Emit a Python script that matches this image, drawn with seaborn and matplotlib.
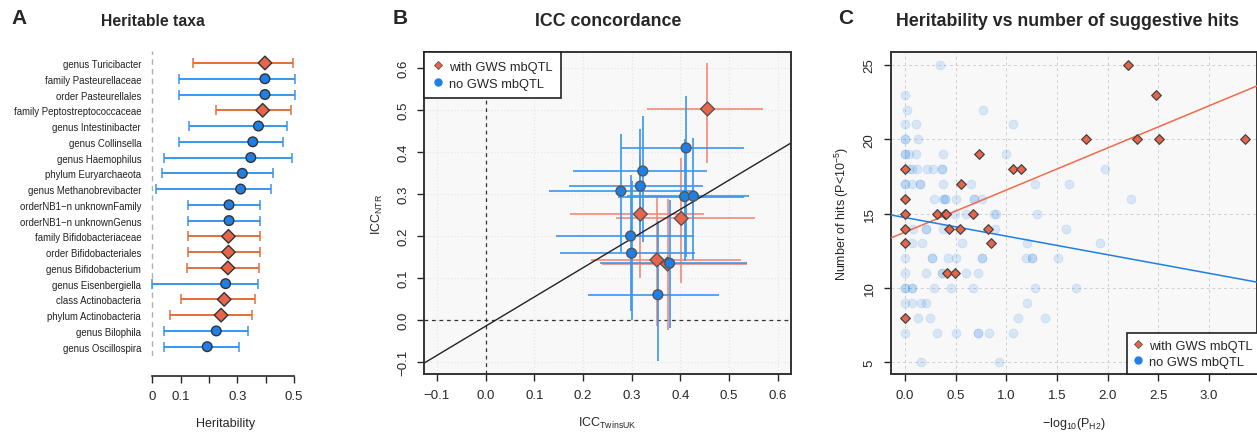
import numpy as np
import pandas as pd
import matplotlib.pyplot as plt
from matplotlib.lines import Line2D
import seaborn as sns

sns.set_style('ticks')
plt.rcParams['font.family'] = ['Liberation Sans', 'DejaVu Sans']
plt.rcParams['mathtext.fontset'] = 'custom'
plt.rcParams['mathtext.rm'] = 'Liberation Sans'
plt.rcParams['mathtext.it'] = 'Liberation Sans'
plt.rcParams['axes.unicode_minus'] = True

RED = '#e8654a'
RED_BAR = '#e2703a'
BLUE = '#1f7fe6'
BLUE_BAR = '#3a95f0'

# ---- panel A: heritable taxa ----
taxa = ['genus Turicibacter', 'family Pasteurellaceae', 'order Pasteurellales',
        'family Peptostreptococcaceae', 'genus Intestinibacter', 'genus Collinsella',
        'genus Haemophilus', 'phylum Euryarchaeota', 'genus Methanobrevibacter',
        'orderNB1\u2212n unknownFamily', 'orderNB1\u2212n unknownGenus',
        'family Bifidobacteriaceae', 'order Bifidobacteriales', 'genus Bifidobacterium',
        'genus Eisenbergiella', 'class Actinobacteria', 'phylum Actinobacteria',
        'genus Bilophila', 'genus Oscillospira']
h2 = [0.398, 0.398, 0.398, 0.390, 0.375, 0.355, 0.348, 0.318, 0.312, 0.271,
      0.271, 0.269, 0.269, 0.267, 0.259, 0.254, 0.243, 0.226, 0.194]
h2_lo = [0.143, 0.096, 0.096, 0.224, 0.129, 0.096, 0.042, 0.034, 0.013, 0.125,
         0.125, 0.125, 0.125, 0.123, 0.0, 0.100, 0.063, 0.042, 0.042]
h2_hi = [0.498, 0.505, 0.505, 0.489, 0.475, 0.461, 0.493, 0.425, 0.419, 0.382,
         0.382, 0.380, 0.380, 0.377, 0.372, 0.364, 0.353, 0.339, 0.306]
h2_gws = [True, False, False, True, False, False, False, False, False, False,
          False, True, True, True, False, True, True, False, False]

# ---- panel B: ICC concordance ----
icc_uk = [0.456, 0.318, 0.402, 0.352, 0.374,
          0.412, 0.323, 0.318, 0.278, 0.409, 0.427, 0.298, 0.300, 0.378, 0.354]
icc_uk_lo = [0.332, 0.173, 0.267, 0.216, 0.239,
             0.278, 0.180, 0.171, 0.131, 0.272, 0.291, 0.144, 0.152, 0.236, 0.211]
icc_uk_hi = [0.570, 0.448, 0.553, 0.525, 0.537,
             0.530, 0.454, 0.447, 0.430, 0.530, 0.541, 0.428, 0.431, 0.537, 0.479]
icc_ntr = [0.503, 0.252, 0.242, 0.143, 0.133,
           0.410, 0.355, 0.319, 0.307, 0.294, 0.295, 0.200, 0.159, 0.135, 0.060]
icc_ntr_lo = [0.375, 0.099, 0.087, -0.015, -0.024,
              0.150, 0.185, 0.200, 0.161, 0.141, 0.143, 0.022, 0.000, -0.020, -0.099]
icc_ntr_hi = [0.612, 0.393, 0.385, 0.294, 0.288,
              0.533, 0.485, 0.455, 0.443, 0.432, 0.433, 0.346, 0.330, 0.287, 0.236]
icc_gws = [True] * 5 + [False] * 10
icc_fit = (-0.015, 0.696)  # intercept, slope

# ---- panel C: heritability vs suggestive hits ----
gws_x = [0, 0, 0, 0, 0, 0, 0.728, 1.064, 1.143, 0.550, 0.313, 0.398, 0.405, 0.669,
         0.432, 0.543, 0.820, 0.850, 0.412, 0.491, 2.204, 2.477, 1.789, 2.292, 2.503, 3.353]
gws_y = [18, 16, 15, 14, 13, 8, 19, 18, 18, 17, 15, 15, 15, 15,
         14, 14, 14, 13, 11, 11, 25, 23, 20, 20, 20, 20]
nogws_x = [0.343,
           0,
           0.02, 0.771,
           0, 0.113, 1.068,
           0, 0, 0.13,
           0, 0, 0.04, 0.105, 0.379, 0.998,
           0.043, 0.066, 0.122, 0.214, 0.28, 0.369, 0.369, 1.973,
           0, 0, 0.066, 0.15, 0.15, 0.379, 0.655, 1.285, 1.62,
           0.29, 0.379, 0.395, 0.395, 0.5, 0.68, 0.68, 0.76, 2.233,
           0.497, 0.6, 0.876, 0.899, 1.3,
           0.076, 0.207, 0.207, 0.372, 0.886, 1.591,
           0.066, 0.165, 0.564, 1.2, 1.927,
           0, 0.27, 0.27, 0.422, 0.504, 0.758, 0.758, 1.195, 1.253, 1.253, 1.515,
           0, 0.204, 0.37, 0.37, 0.603, 0.718,
           0, 0, 0.066, 0.066, 0.29, 0.455, 0.675, 1.284, 1.69,
           0, 0.066, 0.155, 0.208, 1.2,
           0.125, 0.243, 1.113, 1.383,
           0, 0.316, 0.504, 0.716, 0.716, 0.826, 1.064,
           0.158, 0.929]
nogws_y = [25,
           23,
           22, 22,
           21, 21, 21,
           20, 20, 20,
           19, 19, 19, 19, 19, 19,
           18, 18, 18, 18, 18, 18, 18, 18,
           17, 17, 17, 17, 17, 17, 17, 17, 17,
           16, 16, 16, 16, 16, 16, 16, 16, 16,
           15, 15, 15, 15, 15,
           14, 14, 14, 14, 14, 14,
           13, 13, 13, 13, 13,
           12, 12, 12, 12, 12, 12, 12, 12, 12, 12, 12,
           11, 11, 11, 11, 11, 11,
           10, 10, 10, 10, 10, 10, 10, 10, 10,
           9, 9, 9, 9, 9,
           8, 8, 8, 8,
           7, 7, 7, 7, 7, 7, 7,
           5, 5]
gws_fit = (13.76, 2.83)
nogws_fit = (14.74, -1.25)

W, H = 1257, 439
fig = plt.figure(figsize=(W / 100, H / 100), dpi=100)


def frac(left, top, right, bottom):
    return [left / W, 1 - bottom / H, (right - left) / W, (bottom - top) / H]


tick_fs = 9.5
lab_fs = 9

# ================= A =================
axA = fig.add_axes(frac(149.5, 52, 302.3, 357))
dfA = pd.DataFrame({'taxon': taxa, 'h2': h2, 'lo': h2_lo, 'hi': h2_hi, 'gws': h2_gws})
dfA['row'] = np.arange(len(dfA))
for _, r in dfA.iterrows():
    c = RED_BAR if r['gws'] else BLUE_BAR
    axA.errorbar(r['h2'], r['row'], xerr=[[r['h2'] - r['lo']], [r['hi'] - r['h2']]],
                 fmt='none', ecolor=c, elinewidth=1.4, capsize=3.5, capthick=1.1, zorder=2)
sns.scatterplot(data=dfA, x='h2', y='row', hue='gws', style='gws',
                markers={True: 'D', False: 'o'}, palette={True: RED, False: BLUE},
                s=48, edgecolor='#333333', linewidth=1.0, legend=False, ax=axA, zorder=3)
axA.axvline(0, color='#b0b0b0', ls=(0, (4, 3)), lw=1.0, zorder=1)
axA.set_xlim(-0.01, 0.53)
axA.set_ylim(18.59, -0.76)
axA.set_yticks(dfA['row'])
axA.set_yticklabels(taxa, fontsize=6.9, color='#222222')
axA.tick_params(axis='y', length=0, pad=6)
axA.set_xticks([0, 0.1, 0.2, 0.3, 0.4, 0.5])
axA.set_xticklabels(['0', '0.1', '', '0.3', '', '0.5'])
axA.tick_params(axis='x', length=5, width=1.0, pad=5, labelsize=tick_fs)
for s in ['top', 'right', 'left']:
    axA.spines[s].set_visible(False)
axA.spines['bottom'].set_position(('outward', 14.4))
axA.spines['bottom'].set_bounds(0, 0.5)
axA.spines['bottom'].set_linewidth(1.2)
axA.set_xlabel('Heritability', fontsize=lab_fs, labelpad=11)
axA.set_ylabel('')
axA.set_facecolor('white')

# ================= B =================
axB = fig.add_axes(frac(424.3, 53.3, 790.7, 375))
axB.set_facecolor('#f8f8f8')
dfB = pd.DataFrame({'uk': icc_uk, 'uk_lo': icc_uk_lo, 'uk_hi': icc_uk_hi,
                    'ntr': icc_ntr, 'ntr_lo': icc_ntr_lo, 'ntr_hi': icc_ntr_hi,
                    'gws': icc_gws})
for _, r in dfB.iterrows():
    c = '#f08a78' if r['gws'] else BLUE_BAR
    axB.hlines(r['ntr'], r['uk_lo'], r['uk_hi'], color=c, lw=1.4, alpha=0.85, zorder=2)
    axB.vlines(r['uk'], r['ntr_lo'], r['ntr_hi'], color=c, lw=1.4, alpha=0.85, zorder=2)
axB.axvline(0, color='#333333', ls=(0, (3, 3)), lw=0.9, zorder=1)
axB.axhline(0, color='#333333', ls=(0, (3, 3)), lw=0.9, zorder=1)
axB.axline((0, icc_fit[0]), slope=icc_fit[1], color='#222222', lw=1.0, zorder=2)
sns.scatterplot(data=dfB, x='uk', y='ntr', hue='gws', style='gws',
                markers={True: 'D', False: 'o'}, palette={True: RED, False: BLUE},
                s=50, edgecolor='#555555', linewidth=1.0, legend=False, ax=axB, zorder=3)
axB.set_xlim(-0.126, 0.627)
axB.set_ylim(-0.129, 0.638)
ticksB = [-0.1, 0.0, 0.1, 0.2, 0.3, 0.4, 0.5, 0.6]
axB.set_xticks(ticksB)
axB.set_yticks(ticksB)
axB.set_xticklabels([f'{t:.1f}'.replace('-', '\u2212') for t in ticksB])
axB.set_yticklabels([f'{t:.1f}'.replace('-', '\u2212') for t in ticksB],
                    rotation=90, va='center')
axB.tick_params(length=5, width=1.0, pad=6, labelsize=tick_fs)
axB.grid(True, color='#e4e4e4', ls=(0, (1, 2)), lw=0.8)
axB.set_axisbelow(True)
for s in axB.spines.values():
    s.set_linewidth(1.4)
    s.set_color('#333333')
axB.set_xlabel(r'ICC$_{\mathrm{TwinsUK}}$', fontsize=lab_fs, labelpad=10)
axB.set_ylabel(r'ICC$_{\mathrm{NTR}}$', fontsize=lab_fs, labelpad=9)
handles = [Line2D([], [], marker='D', ls='none', color=RED, markeredgecolor='#555555',
                  markersize=4.5, markeredgewidth=0.6),
           Line2D([], [], marker='o', ls='none', color=BLUE, markeredgecolor=BLUE,
                  markersize=5)]
labels = ['with GWS mbQTL', 'no GWS mbQTL']
legB = axB.legend(handles, labels, loc='upper left', borderaxespad=0, fontsize=9.3,
                  frameon=True, fancybox=False, handlelength=0.8, handletextpad=0.45,
                  borderpad=0.65, labelspacing=0.4)
legB.get_frame().set_edgecolor('#222222')
legB.get_frame().set_linewidth(1.2)
legB.get_frame().set_alpha(1)

# ================= C =================
axC = fig.add_axes(frac(891, 53.3, 1257.4, 375))
axC.set_facecolor('#f8f8f8')
dfC = pd.concat([pd.DataFrame({'x': nogws_x, 'y': nogws_y, 'gws': False}),
                 pd.DataFrame({'x': gws_x, 'y': gws_y, 'gws': True})])
sns.scatterplot(data=dfC[~dfC['gws']], x='x', y='y', color=BLUE, alpha=0.15,
                s=42, edgecolor=BLUE, linewidth=0.5, legend=False, ax=axC, zorder=2)
axC.axline((0, gws_fit[0]), slope=gws_fit[1], color='#f26a4b', lw=1.1, zorder=3)
axC.axline((0, nogws_fit[0]), slope=nogws_fit[1], color=BLUE, lw=1.1, zorder=3)
sns.scatterplot(data=dfC[dfC['gws']], x='x', y='y', marker='D', color=RED,
                s=24, edgecolor='#444444', linewidth=0.9, legend=False, ax=axC, zorder=4)
axC.set_xlim(-0.138, 3.478)
axC.set_ylim(4.22, 25.85)
xticksC = [0, 0.5, 1.0, 1.5, 2.0, 2.5, 3.0]
axC.set_xticks(xticksC)
axC.set_xticklabels([f'{t:.1f}' for t in xticksC])
axC.set_yticks([5, 10, 15, 20, 25])
axC.set_yticklabels(['5', '10', '15', '20', '25'], rotation=90, va='center')
axC.tick_params(length=5, width=1.0, pad=6, labelsize=tick_fs)
axC.grid(True, color='#cfcfcf', ls=(0, (3, 3)), lw=0.7)
axC.set_axisbelow(True)
for s in axC.spines.values():
    s.set_linewidth(1.4)
    s.set_color('#333333')
axC.set_xlabel(r'$-$log$_{10}$(P$_{\mathrm{H2}}$)', fontsize=lab_fs, labelpad=10)
axC.set_ylabel(r'Number of hits (P<10$^{-5}$)', fontsize=lab_fs, labelpad=9)
legC = axC.legend(handles, labels, loc='lower left', bbox_to_anchor=((1126.7 - 891) / 366.4, 0),
                  borderaxespad=0, fontsize=9.3, frameon=True, fancybox=False,
                  handlelength=0.8, handletextpad=0.45, borderpad=0.5, labelspacing=0.3)
legC.get_frame().set_edgecolor('#222222')
legC.get_frame().set_linewidth(1.2)
legC.get_frame().set_alpha(1)

# titles and panel letters
for title, px, size in [('Heritable taxa', 153, 11.3), ('ICC concordance', 608, 12.8),
                        ('Heritability vs number of suggestive hits', 1068, 12.8)]:
    fig.text(px / W, 1 - 22 / H, title, ha='center', va='center',
             fontsize=size, fontweight='bold')
for letter, px in [('A', 19), ('B', 400), ('C', 846)]:
    fig.text(px / W, 1 - 18 / H, letter, ha='center', va='center',
             fontsize=15, fontweight='bold')

fig.savefig('out.png', dpi=100)
